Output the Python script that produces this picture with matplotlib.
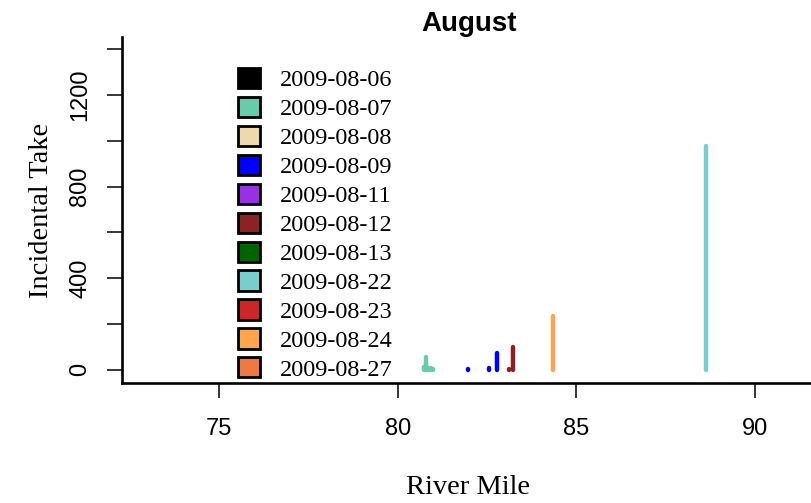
import matplotlib
matplotlib.use("Agg")
import matplotlib.pyplot as plt
from matplotlib.patches import Patch

# ---- data ----
dates = ["2009-08-06", "2009-08-07", "2009-08-08", "2009-08-09", "2009-08-11",
         "2009-08-12", "2009-08-13", "2009-08-22", "2009-08-23", "2009-08-24",
         "2009-08-27"]
colors = ["#000000", "#66CDAA", "#EED8AE", "#0000FF", "#9B30E0",
          "#8B2323", "#006400", "#79CDCD", "#CD2626", "#FFA54F", "#EE7942"]

mile_0807 = [80.74, 80.79, 80.86, 80.93, 81.00]
take_0807 = [12, 55, 10, 8, 5]
mile_0809 = [81.96, 82.55, 82.78]
take_0809 = [2, 8, 74]
mile_0812 = [83.11, 83.22]
take_0812 = [5, 100]
mile_0822 = [88.62]
take_0822 = [978]
mile_0824 = [84.34]
take_0824 = [235]

series = {
    "2009-08-07": (mile_0807, take_0807),
    "2009-08-09": (mile_0809, take_0809),
    "2009-08-12": (mile_0812, take_0812),
    "2009-08-22": (mile_0822, take_0822),
    "2009-08-24": (mile_0824, take_0824),
}

xticks = [75, 80, 85, 90]
yticks = [0, 200, 400, 600, 800, 1000, 1200, 1400]
yticklabels = ["0", "", "400", "", "800", "", "1200", ""]

# ---- figure ----
fig = plt.figure(figsize=(8.11, 5.03), dpi=100)
ax = fig.add_axes([0.1504, 0.2386, 0.8496, 0.6878])

for d, c in zip(dates, colors):
    if d in series:
        xs, ys = series[d]
        ax.vlines(xs, 0, ys, colors=c, linewidth=3.2, capstyle="round")

ax.set_xlim(72.29, 91.56)
ax.set_ylim(-57, 1452)

for s in ["top", "right"]:
    ax.spines[s].set_visible(False)
for s in ["left", "bottom"]:
    ax.spines[s].set_linewidth(1.9)

ax.set_xticks(xticks)
ax.set_xticklabels([str(v) for v in xticks], fontfamily="Liberation Sans", fontsize=17)
ax.set_yticks(yticks)
ax.set_yticklabels(yticklabels, fontfamily="Liberation Sans", fontsize=17,
                   rotation=90, va="center")
ax.tick_params(axis="x", length=11, width=1.1, pad=14)
ax.tick_params(axis="y", length=11, width=1.1, pad=11)

ax.set_title("August", fontfamily="Liberation Sans", fontweight="bold",
             fontsize=20, pad=3, x=0.504)
fig.text(0.051, 0.5825, "Incidental Take", rotation=90, fontfamily="Liberation Serif",
         fontsize=20.5, ha="center", va="center")
fig.text(0.5765, 0.03, "River Mile", fontfamily="Liberation Serif",
         fontsize=20.5, ha="center", va="center")

handles = [Patch(facecolor=c, edgecolor="black", linewidth=2) for c in colors]
leg = fig.legend(handles, dates, loc="upper left", bbox_to_anchor=(0.2936, 0.865),
                 frameon=False, prop={"family": "Liberation Serif", "size": 17.5},
                 handlelength=0.9, handleheight=0.9, handletextpad=0.82,
                 labelspacing=0.225, borderpad=0, borderaxespad=0)

fig.savefig("out.png", dpi=100)
